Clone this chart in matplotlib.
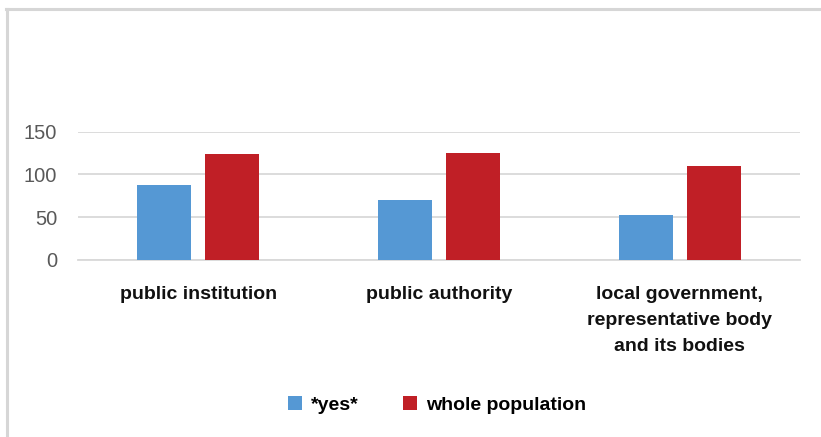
import numpy as np
import matplotlib
matplotlib.use("Agg")
import matplotlib.pyplot as plt
from matplotlib.lines import Line2D

plt.rcParams['font.family'] = ['Liberation Sans', 'DejaVu Sans']

categories = ["public institution", "public authority",
              "local government,\nrepresentative body\nand its bodies"]
yes_values = [87, 70, 52]
whole_values = [124, 125, 110]
series_names = ["*yes*", "whole population"]
yticks = [0, 50, 100, 150]

blue = "#5598D4"
red = "#C01F26"
grid_col = "#D9D9D9"

fig = plt.figure(figsize=(8.21, 4.37), dpi=100)
ax = fig.add_axes([0.095, 0.4057, 0.8794, 0.2929])

x = np.arange(len(categories))
w = 0.224
off = 0.141
b1 = ax.bar(x - off, yes_values, w, color=blue, label=series_names[0], zorder=3)
b2 = ax.bar(x + off, whole_values, w, color=red, label=series_names[1], zorder=3)

ax.set_xlim(-0.5, len(categories) - 0.5)
ax.set_ylim(0, 150)
ax.set_yticks(yticks)
ax.set_yticklabels([str(t) for t in yticks], fontsize=14.5, color="#595959")
ax.tick_params(axis='y', length=0, pad=15)
ax.yaxis.grid(True, color=grid_col, linewidth=1.3, zorder=0)
for s in ["top", "right", "left"]:
    ax.spines[s].set_visible(False)
ax.spines["bottom"].set_color(grid_col)
ax.spines["bottom"].set_linewidth(1.3)

ax.set_xticks(x)
ax.set_xticklabels(categories, fontsize=14, fontweight="bold", color="#111111",
                   linespacing=1.67, va="top")
ax.tick_params(axis='x', length=0, pad=19)

fig.legend(handles=[b1, b2], labels=series_names, loc="center",
           bbox_to_anchor=(0.532, 0.073), ncol=2, frameon=False,
           prop={'size': 14, 'weight': 'bold'}, handlelength=0.72,
           handleheight=0.72, handletextpad=0.45, columnspacing=2.3)

# light frame along top and left edges
fig.add_artist(Line2D([0.007, 1.0], [0.979, 0.979], transform=fig.transFigure,
                      color="#D6D6D6", linewidth=2.2))
fig.add_artist(Line2D([0.0085, 0.0085], [0.0, 0.979], transform=fig.transFigure,
                      color="#D6D6D6", linewidth=2.2))

fig.savefig("out.png", dpi=100, facecolor="white")
